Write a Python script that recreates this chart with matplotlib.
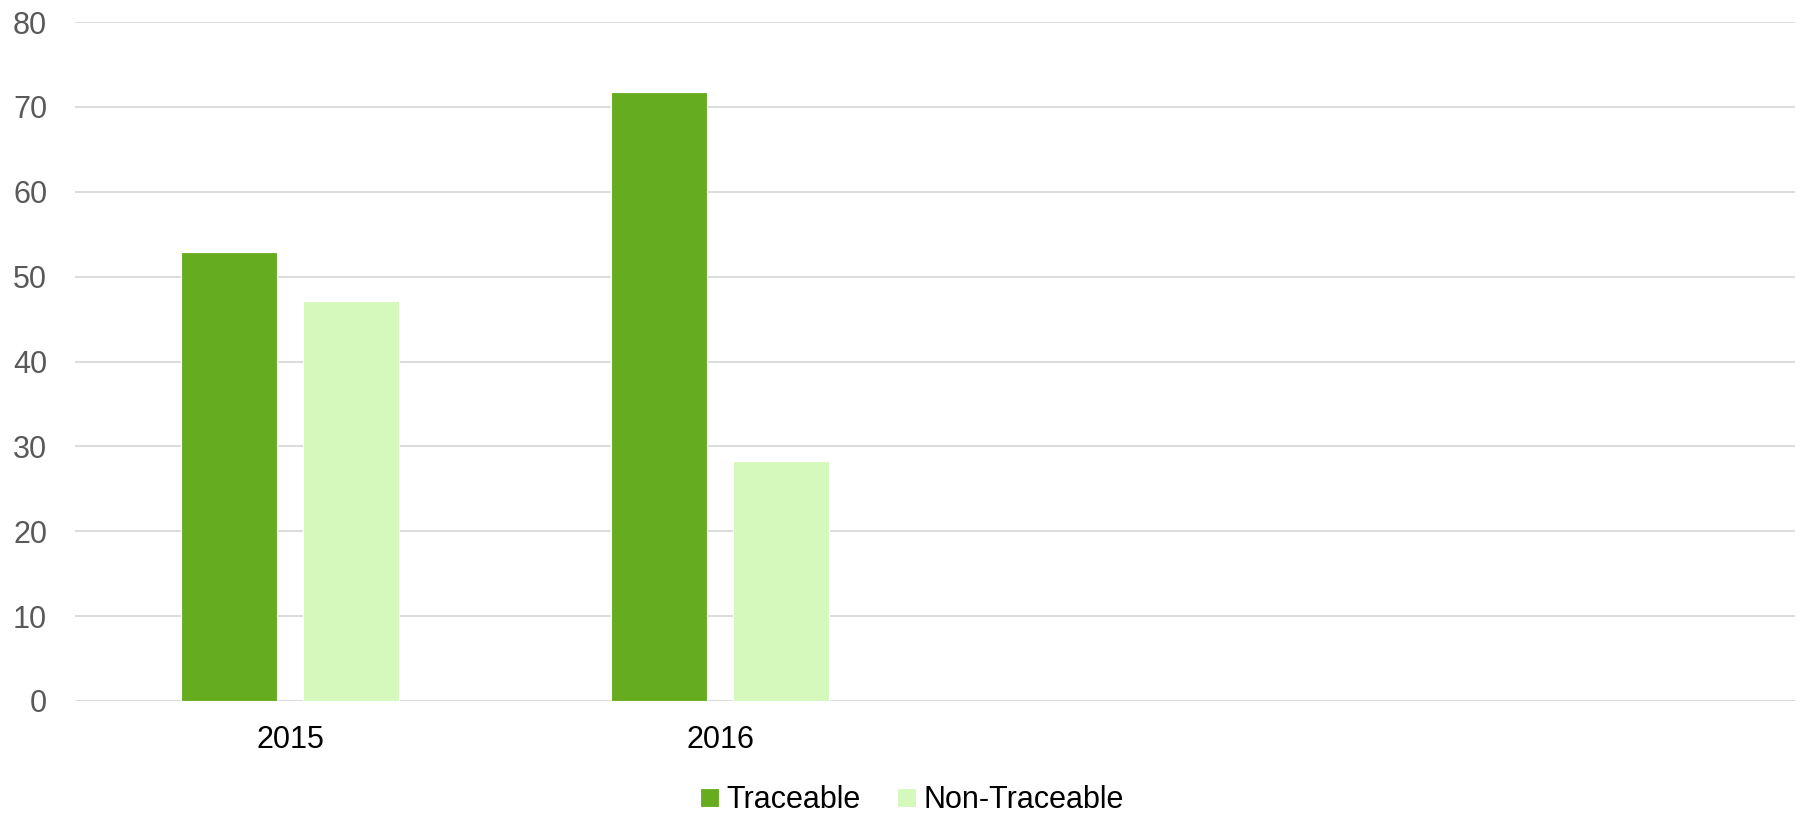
import numpy as np
import matplotlib
matplotlib.use("Agg")
import matplotlib.pyplot as plt

plt.rcParams['font.family'] = ['Liberation Sans', 'DejaVu Sans']

years = ["2015", "2016"]
traceable = [52.9, 71.7]
non_traceable = [47.1, 28.3]
series_names = ["Traceable", "Non-Traceable"]
colors = ["#66ac1f", "#d5f9bc"]

fig = plt.figure(figsize=(18, 8.14), dpi=100)
ax = fig.add_axes([75 / 1800, 113 / 814, 1720 / 1800, 679 / 814])

x = np.arange(len(years))
w = 0.2233
off = 0.1424
ax.bar(x - off, traceable, w, color=colors[0], edgecolor="white", linewidth=0.8,
       label=series_names[0], zorder=3)
ax.bar(x + off, non_traceable, w, color=colors[1], edgecolor="white", linewidth=0.8,
       label=series_names[1], zorder=3)

# four category slots, only two filled
ax.set_xlim(-0.5, 3.5)
ax.set_ylim(0, 80)
ax.set_yticks(np.arange(0, 81, 10))
ax.set_xticks(x)
ax.set_xticklabels(years)

ax.grid(axis="y", color="#d9d9d9", linewidth=1.3, zorder=0)
ax.set_axisbelow(True)
for s in ax.spines.values():
    s.set_visible(False)
ax.tick_params(axis="y", length=0, pad=20, labelsize=22, labelcolor="#595959")
ax.tick_params(axis="x", length=0, pad=17, labelsize=22, labelcolor="black")

fig.legend(loc="center", bbox_to_anchor=(912 / 1800, 14 / 814), ncol=2, frameon=False,
           fontsize=22, handlelength=0.6, handleheight=0.6, handletextpad=0.25,
           columnspacing=1.2, borderaxespad=0, borderpad=0)

fig.savefig("out.png", dpi=100, facecolor="white")
